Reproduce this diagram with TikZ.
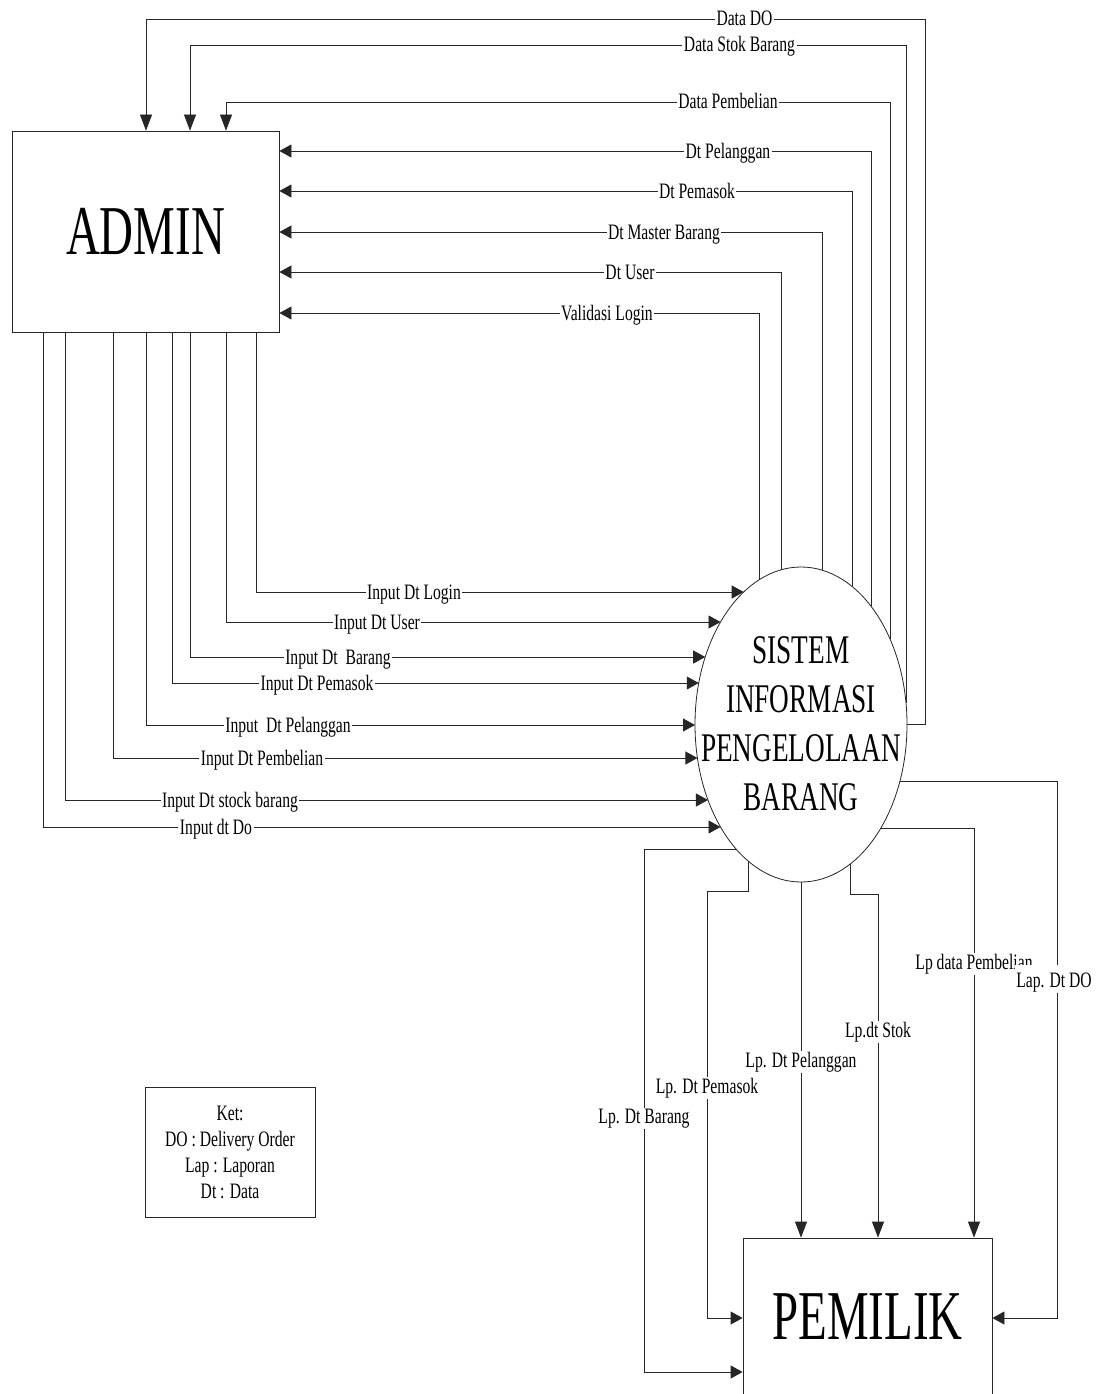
\documentclass[tikz,border=0pt]{standalone}
\usepackage{fontspec}
\usetikzlibrary{arrows.meta,shapes.geometric}
\newfontfamily\dfdsmall[FakeStretch=0.71]{Liberation Serif}
\newfontfamily\dfdbig[FakeStretch=0.67]{Liberation Serif}
\newcommand\labfont{\dfdsmall\fontsize{22}{26}\selectfont}
\newcommand\sysfont{\dfdbig\fontsize{40.7}{49}\selectfont}
\newcommand\hugefont{\dfdbig\fontsize{70}{80}\selectfont}
% points on the ellipse border (centre 801,724.5; radii 106,157.5)
\newcommand\exL[1]{({801-106*sqrt(1-((#1-724.5)/157.5)^2)},#1)}
\newcommand\exR[1]{({801+106*sqrt(1-((#1-724.5)/157.5)^2)},#1)}
\newcommand\eyT[1]{(#1,{724.5-157.5*sqrt(1-((#1-801)/106)^2)})}
\newcommand\eyB[1]{(#1,{724.5+157.5*sqrt(1-((#1-801)/106)^2)})}
\tikzset{
  ln/.style={line width=0.8pt, draw=black!85},
  arr/.style={ln, -{Triangle[length=12pt,width=13pt]}},
  arrv/.style={ln, -{Triangle[length=16pt,width=12pt]}},
  lab/.style={fill=white, inner xsep=1.5pt, inner ysep=1pt, font=\labfont, anchor=base},
}
\begin{document}
\begin{tikzpicture}[x=1pt,y=-1pt]
\useasboundingbox (0,0) rectangle (1103,1394);
\clip (0,0) rectangle (1103,1394);
\fill[white] (0,0) rectangle (1103,1394);

% nodes
\node[draw, ln, minimum width=267pt, minimum height=201pt, inner sep=0pt, font=\hugefont] (ADMIN) at (145.5,231.5) {ADMIN};
\node[draw, ln, ellipse, minimum width=212pt, minimum height=315pt, inner sep=0pt] (SYS) at (801,724.5) {};
\node[align=center, font=\sysfont, inner sep=0pt] (SYSTXT) at (801,723.5) {SISTEM\\INFORMASI\\PENGELOLAAN\\BARANG};
\node[draw, ln, minimum width=249pt, minimum height=157pt, inner sep=0pt, font=\hugefont] (PEM) at (867.5,1316.5) {PEMILIK};
\node[draw, ln, minimum width=170pt, minimum height=130pt, align=center, font=\labfont] (KET) at (230,1152) {Ket:\\DO : Delivery Order\\Lap : Laporan\\Dt : Data};

% system -> admin
\draw[arrv] \exR{724} -- (925,724) |- (146,19) -- (ADMIN.north -| 146,0);
\draw[arrv] \eyT{906} |- (190,45) -- (ADMIN.north -| 190,0);
\draw[arrv] \eyT{890} |- (226,102) -- (ADMIN.north -| 226,0);
\draw[arr] \eyT{871} |- (ADMIN.east |- 0,151);
\draw[arr] \eyT{852} |- (ADMIN.east |- 0,191);
\draw[arr] \eyT{822} |- (ADMIN.east |- 0,232);
\draw[arr] \eyT{781} |- (ADMIN.east |- 0,272);
\draw[arr] \eyT{759} |- (ADMIN.east |- 0,313);

\node[lab] (l1) at (744.5,26) {Data DO};
\node[lab] (l2) at (739.5,52) {Data Stok Barang};
\node[lab] (l3) at (728,109) {Data Pembelian};
\node[lab] (l4) at (728,158) {Dt Pelanggan};
\node[lab] (l5) at (697,198) {Dt Pemasok};
\node[lab] (l6) at (664,239) {Dt Master Barang};
\node[lab] (l7) at (630,279) {Dt User};
\node[lab] (l8) at (607,320) {Validasi Login};

% admin -> system
\draw[arr] (ADMIN.south -| 256,0) |- \exL{592};
\draw[arr] (ADMIN.south -| 226,0) |- \exL{622};
\draw[arr] (ADMIN.south -| 190,0) |- \exL{657};
\draw[arr] (ADMIN.south -| 172,0) |- \exL{683};
\draw[arr] (ADMIN.south -| 146,0) |- \exL{725};
\draw[arr] (ADMIN.south -| 113,0) |- \exL{758};
\draw[arr] (ADMIN.south -| 65,0) |- \exL{800};
\draw[arr] (ADMIN.south -| 43,0) |- \exL{827};

\node[lab] (i1) at (414,599) {Input Dt Login};
\node[lab] (i2) at (377,629) {Input Dt User};
\node[lab] (i3) at (338,664) {Input Dt\ \ Barang};
\node[lab] (i4) at (317,690) {Input Dt Pemasok};
\node[lab] (i5) at (288,732) {Input\ \ Dt Pelanggan};
\node[lab] (i6) at (262,765) {Input Dt Pembelian};
\node[lab] (i7) at (230,807) {Input Dt stock barang};
\node[lab] (i8) at (216,834) {Input dt Do};

% system -> pemilik
\draw[arr] \exL{849} -- (644,849) |- (PEM.west |- 0,1372);
\draw[arr] \eyB{748} |- (707,891) |- (PEM.west |- 0,1318);
\draw[arrv] \eyB{801} -- (PEM.north -| 801,0);
\draw[arrv] \eyB{850} |- (878,894) -- (PEM.north -| 878,0);
\draw[arrv] \exR{828} -| (PEM.north -| 974,0);
\draw[arr] \exR{781} -| (1057,1318) -- (PEM.east |- 0,1318);

\node[lab] (p1) at (644,1123) {Lp. Dt Barang};
\node[lab] (p2) at (707,1093) {Lp. Dt Pemasok};
\node[lab] (p3) at (801,1067) {Lp. Dt Pelanggan};
\node[lab] (p4) at (878,1037) {Lp.dt Stok};
\node[lab] (p5) at (974,969) {Lp data Pembelian};
\node[lab, text height=21pt] (p6) at (1054,987) {Lap. Dt DO};
\end{tikzpicture}
\end{document}
